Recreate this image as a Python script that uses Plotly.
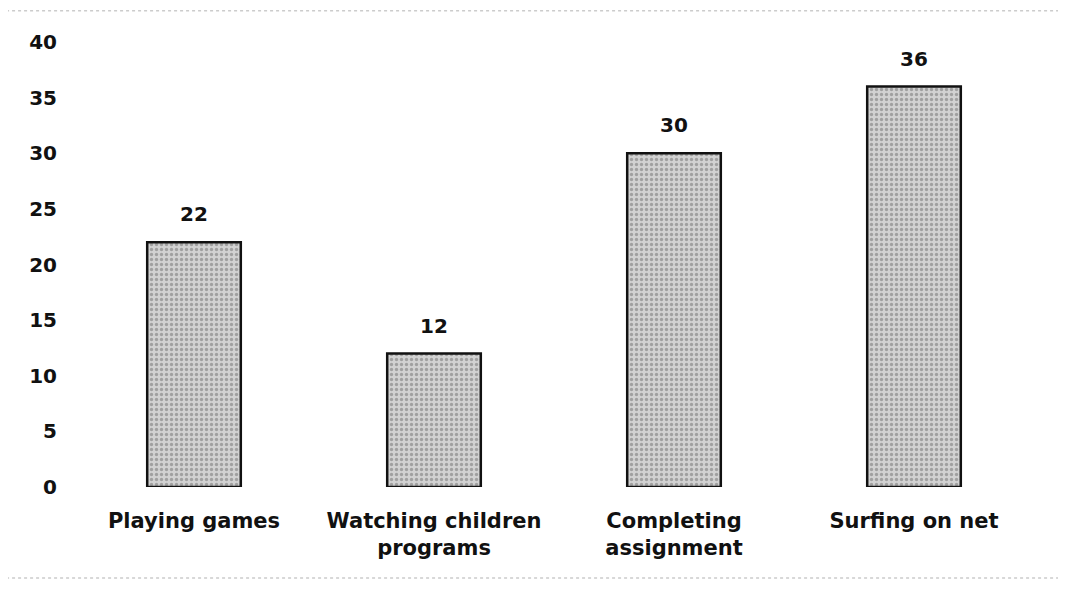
import plotly.graph_objects as go

categories = ["Playing games", "Watching children<br>programs", "Completing<br>assignment", "Surfing on net"]
values = [22, 12, 30, 36]
y_ticks = [0, 5, 10, 15, 20, 25, 30, 35, 40]

FONT = "DejaVu Sans"

fig = go.Figure()
fig.add_trace(go.Bar(
    x=categories,
    y=values,
    marker=dict(
        color="#cccccc",
        line=dict(color="#111111", width=2.5),
        pattern=dict(shape=".", fgcolor="#6e6e6e", bgcolor="#d2d2d2", size=5, solidity=0.35),
    ),
    width=0.39,
    hoverinfo="skip",
))

for c, v in zip(categories, values):
    fig.add_annotation(x=c, y=v, text=str(v), showarrow=False, yshift=28,
                       font=dict(family=FONT, size=20, color="#111111", weight="bold"))

# faint scan-like border lines
for yy in [1.07, -0.2045]:
    fig.add_shape(type="line", xref="paper", yref="paper", x0=-0.077, x1=1.033, y0=yy, y1=yy,
                  line=dict(color="#cccccc", width=1.5, dash="dot"))

fig.update_layout(
    width=1066, height=589,
    margin=dict(l=66, r=40, t=34, b=110, autoexpand=False),
    paper_bgcolor="white", plot_bgcolor="white",
    showlegend=False,
    font=dict(family=FONT, size=20, color="#111111"),
    xaxis=dict(showgrid=False, showline=False, zeroline=False, ticks="",
               tickfont=dict(family=FONT, size=21, color="#111111", weight="bold"),
               ticklabelstandoff=19, automargin=False),
    yaxis=dict(range=[0, 40], tickvals=y_ticks, showgrid=False, showline=False, zeroline=False,
               ticks="", tickfont=dict(family=FONT, size=20, color="#111111", weight="bold"),
               ticklabelstandoff=16, automargin=False),
)

fig.write_html("out.html")
